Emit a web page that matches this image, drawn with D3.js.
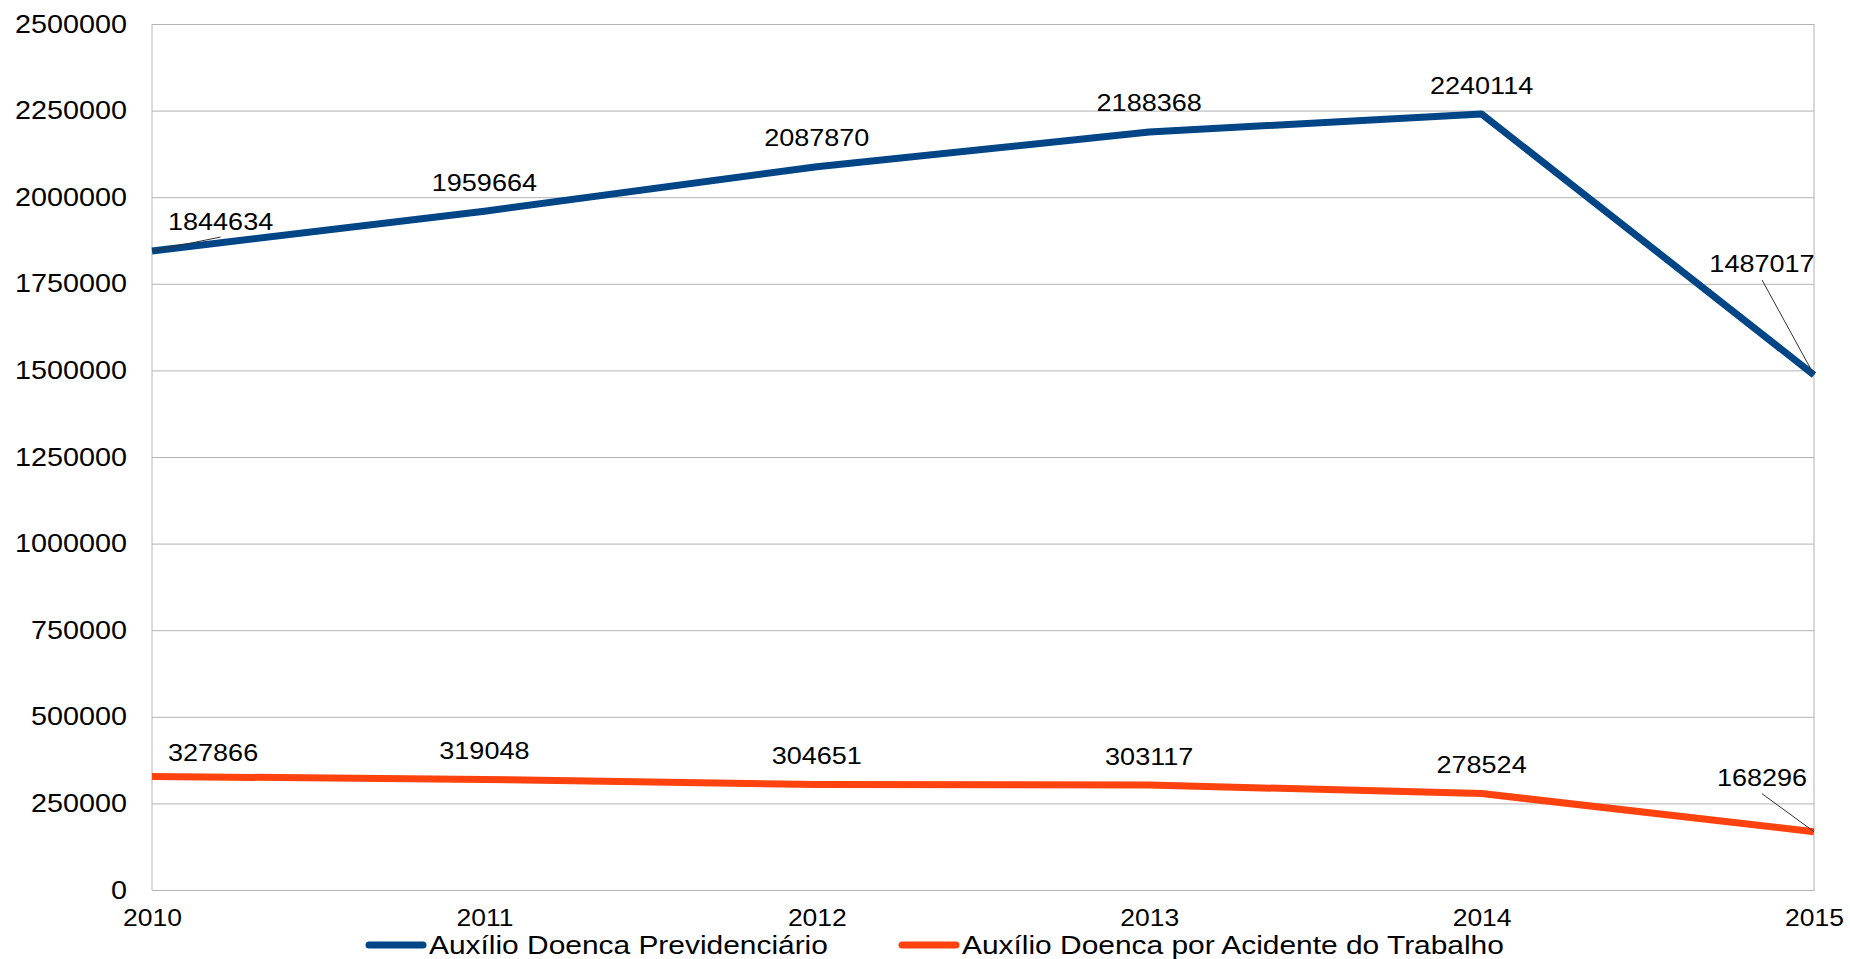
<!DOCTYPE html>
<html>
<head>
<meta charset="utf-8">
<script src="https://cdn.jsdelivr.net/npm/d3@7"></script>
<style>
  html, body { margin: 0; padding: 0; background: #fff; }
  svg { display: block; font-family: "Liberation Sans", Arial, sans-serif; }
</style>
</head>
<body>
<div id="chart"></div>
<script>
// data
const years = [2010, 2011, 2012, 2013, 2014, 2015];
const previdenciario = [1844634, 1959664, 2087870, 2188368, 2240114, 1487017];
const acidenteTrabalho = [327866, 319048, 304651, 303117, 278524, 168296];
const seriesNames = ["Auxílio Doenca Previdenciário", "Auxílio Doenca por Acidente do Trabalho"];
const yTicks = [0, 250000, 500000, 750000, 1000000, 1250000, 1500000, 1750000, 2000000, 2250000, 2500000];

const width = 1850, height = 959;
const margin = {top: 24, right: 36, bottom: 69, left: 152};
const colors = ["#004586", "#ff420e"];
const stretchK = 1.15; // the reference text is a bit wide

const svg = d3.select("#chart")
  .append("svg")
  .attr("width", width)
  .attr("height", height);

const x = d3.scaleLinear()
  .domain([years[0], years[years.length - 1]])
  .range([margin.left, width - margin.right]);

const y = d3.scaleLinear()
  .domain([0, 2500000])
  .range([height - margin.bottom, margin.top]);

function stretch(sel) {
  sel.each(function() {
    const w = this.getComputedTextLength();
    d3.select(this).attr("textLength", w * stretchK).attr("lengthAdjust", "spacingAndGlyphs");
  });
}

// y axis + horizontal grid
const yAxis = svg.append("g")
  .attr("transform", `translate(${margin.left},0)`)
  .call(d3.axisLeft(y).tickValues(yTicks).tickFormat(d3.format("d"))
    .tickSize(-(width - margin.left - margin.right)).tickPadding(25));
yAxis.select(".domain").remove();
yAxis.selectAll(".tick line").attr("stroke", "#b3b3b3").attr("stroke-width", 1);
yAxis.selectAll(".tick text").attr("font-size", 25).attr("fill", "#000")
  .attr("font-family", "'Liberation Sans', Arial, sans-serif").call(stretch);

// plot frame: left, right, bottom
svg.append("g").selectAll("line")
  .data([margin.left, width - margin.right])
  .join("line")
  .attr("x1", d => d).attr("x2", d => d)
  .attr("y1", y(2500000)).attr("y2", y(0))
  .attr("stroke", "#b3b3b3");

// x axis
const xAxis = svg.append("g")
  .attr("transform", `translate(0,${height - margin.bottom})`)
  .call(d3.axisBottom(x).tickValues(years).tickFormat(d3.format("d")).tickSize(0).tickPadding(20));
xAxis.select(".domain").attr("stroke", "#b3b3b3");
xAxis.selectAll(".tick text").attr("font-size", 23).attr("fill", "#000")
  .attr("font-family", "'Liberation Sans', Arial, sans-serif").call(stretch);

const series = [previdenciario, acidenteTrabalho];
const line = d3.line().x((d, i) => x(years[i])).y(d => y(d));

series.forEach((vals, s) => {
  svg.append("path")
    .datum(vals)
    .attr("fill", "none")
    .attr("stroke", colors[s])
    .attr("stroke-width", 7)
    .attr("stroke-linejoin", "round")
    .attr("d", line);
});

// data labels (edge labels pushed inside, with a leader line)
const firstLift = [30, 24];
const lastLift = [111, 54];
series.forEach((vals, s) => {
  const g = svg.append("g").attr("font-size", 23.5).attr("fill", "#000");
  vals.forEach((v, i) => {
    const px = x(years[i]), py = y(v);
    let cy = py - 29, t;
    if (i === 0) {
      cy = py - firstLift[s];
      t = g.append("text").attr("x", margin.left + 16).attr("y", cy + 8.5).attr("text-anchor", "start").text(v);
    } else if (i === vals.length - 1) {
      cy = py - lastLift[s];
      t = g.append("text").attr("x", width - margin.right - 52).attr("y", cy + 8.5).attr("text-anchor", "middle").text(v);
    } else {
      t = g.append("text").attr("x", px).attr("y", cy + 8.5).attr("text-anchor", "middle").text(v);
    }
    t.call(stretch);
    if (i === 0 || i === vals.length - 1) {
      const b = t.node().getBBox();
      const lx = b.x + b.width / 2, ly = cy + 16;
      if (Math.abs(py - ly) > 10) {
        g.append("line")
          .attr("x1", lx).attr("y1", ly).attr("x2", px).attr("y2", py)
          .attr("stroke", "#333").attr("stroke-width", 1);
      }
    }
  });
});

// legend
const legendX = [369, 902];
const leg = svg.append("g");
seriesNames.forEach((name, s) => {
  leg.append("line")
    .attr("x1", legendX[s]).attr("x2", legendX[s] + 54)
    .attr("y1", 945).attr("y2", 945)
    .attr("stroke", colors[s]).attr("stroke-width", 7).attr("stroke-linecap", "round");
  leg.append("text")
    .attr("x", legendX[s] + 60).attr("y", 954)
    .attr("font-size", 26).attr("fill", "#000")
    .text(name).call(stretch);
});
</script>
</body>
</html>
